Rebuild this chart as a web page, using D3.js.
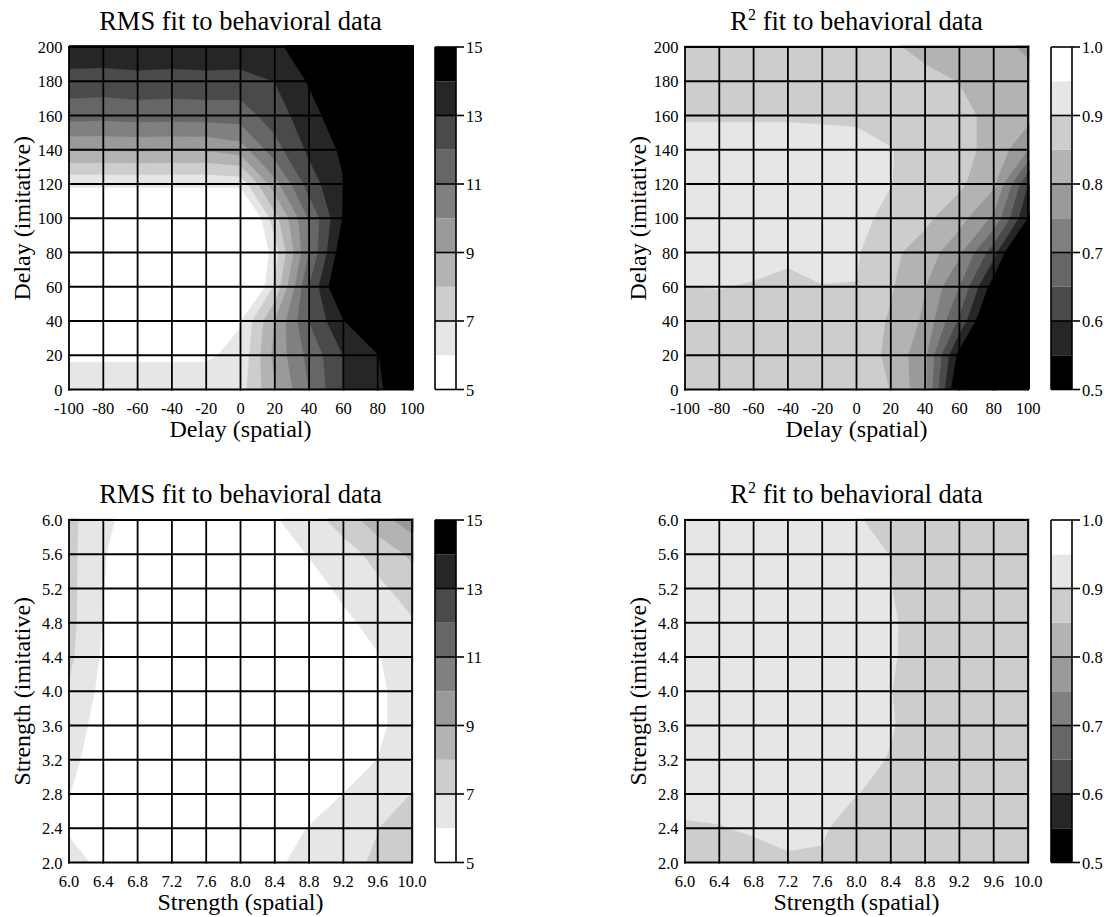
<!DOCTYPE html>
<html><head><meta charset="utf-8">
<script src="https://cdn.jsdelivr.net/npm/d3@7"></script>
<style>
html,body{margin:0;padding:0;background:#fff;}
svg{display:block;}
text{font-family:"Liberation Serif","Times New Roman",Times,serif;fill:#000;}
</style></head><body>
<svg id="chart" width="1115" height="917"></svg>
<script>
// ---------- tick values and labels ----------
const delaySpatialTicks = [-100,-80,-60,-40,-20,0,20,40,60,80,100];
const delaySpatialLabels = ["-100","-80","-60","-40","-20","0","20","40","60","80","100"];
const delayImitTicks = [0,20,40,60,80,100,120,140,160,180,200];
const delayImitLabels = ["0","20","40","60","80","100","120","140","160","180","200"];
const strengthSpatialTicks = [6.0,6.4,6.8,7.2,7.6,8.0,8.4,8.8,9.2,9.6,10.0];
const strengthSpatialLabels = ["6.0","6.4","6.8","7.2","7.6","8.0","8.4","8.8","9.2","9.6","10.0"];
const strengthImitTicks = [2.0,2.4,2.8,3.2,3.6,4.0,4.4,4.8,5.2,5.6,6.0];
const strengthImitLabels = ["2.0","2.4","2.8","3.2","3.6","4.0","4.4","4.8","5.2","5.6","6.0"];

// ---------- contour levels and colorbar labels ----------
const rmsLevels = [5,6,7,8,9,10,11,12,13,14,15];
const rmsBarTicks = [5,7,9,11,13,15];
const rmsBarLabels = ["5","7","9","11","13","15"];
const r2Levels = [0.5,0.55,0.6,0.65,0.7,0.75,0.8,0.85,0.9,0.95,1.0];
const r2BarTicks = [0.5,0.6,0.7,0.8,0.9,1.0];
const r2BarLabels = ["0.5","0.6","0.7","0.8","0.9","1.0"];

// ---------- grid values (rows: top = highest imitative value) ----------
// RMS vs delays; columns = spatial delay -100..100, rows = imitative delay 200..0
const rmsDelay = [
  [13.7, 13.7, 13.75,13.7, 13.75,13.75,13.85,14.4, 15.0, 16.0, 16.0],
  [12.6, 12.55,12.65,12.6, 12.65,12.6, 13.02,14.1, 15.0, 16.0, 16.0],
  [11.4, 11.35,11.45,11.4, 11.45,11.5, 12.5, 13.6, 14.7, 16.0, 16.0],
  [9.1,  9.1,  9.15, 9.1,  9.1,  9.5,  11.6, 13.2, 14.2, 15.5, 16.0],
  [6.2,  6.2,  6.2,  6.2,  6.2,  6.3,  9.6,  12.5, 13.95,15.5, 16.0],
  [4.3,  4.3,  4.3,  4.3,  4.3,  3.5,  7.6,  11.1, 14.1, 16.0, 16.0],
  [4.5,  4.5,  4.5,  4.5,  4.5,  3.5,  6.5,  11.02,14.8, 16.5, 16.5],
  [4.5,  4.5,  4.5,  4.5,  4.5,  3.0,  7.2,  12.02,15.5, 16.5, 16.5],
  [5.0,  5.0,  5.0,  5.0,  5.0,  5.95, 9.02, 12.02,13.95,15.5, 16.0],
  [5.9,  5.9,  5.9,  5.9,  5.9,  6.2,  9.3,  11.3, 13.02,13.95,15.5],
  [6.4,  6.4,  6.4,  6.4,  6.4,  6.6,  8.9,  11.02,13.02,13.8, 15.0]
];
// R^2 vs delays
const r2Delay = [
  [0.87, 0.87, 0.87, 0.87, 0.87, 0.87, 0.855,0.84, 0.83, 0.82, 0.79],
  [0.875,0.875,0.875,0.875,0.875,0.875,0.87, 0.86, 0.849,0.83, 0.82],
  [0.895,0.895,0.895,0.895,0.893,0.89, 0.88, 0.87, 0.86, 0.84, 0.82],
  [0.92, 0.92, 0.92, 0.92, 0.92, 0.92, 0.902,0.88, 0.86, 0.84, 0.75],
  [0.93, 0.93, 0.93, 0.93, 0.93, 0.93, 0.901,0.88, 0.86, 0.81, 0.6],
  [0.93, 0.93, 0.93, 0.93, 0.93, 0.91, 0.89, 0.86, 0.82, 0.74, 0.548],
  [0.925,0.925,0.925,0.925,0.925,0.905,0.86, 0.83, 0.76, 0.62, 0.4],
  [0.899,0.902,0.895,0.87, 0.898,0.899,0.855,0.802,0.7,  0.52, 0.4],
  [0.875,0.875,0.875,0.875,0.875,0.875,0.845,0.79, 0.64, 0.45, 0.35],
  [0.875,0.875,0.875,0.875,0.875,0.875,0.84, 0.76, 0.53, 0.4,  0.3],
  [0.87, 0.87, 0.87, 0.87, 0.87, 0.87, 0.849,0.76, 0.48, 0.38, 0.3]
];
// RMS vs strengths; columns = spatial 6.0..10.0, rows = imitative 6.0..2.0
const rmsStrength = [
  [7.3, 6.2,  5.6, 5.4, 5.3, 5.4, 5.9, 6.6,  7.4,  8.6,  9.5],
  [7.3, 6.05, 5.5, 5.3, 5.2, 5.3, 5.5, 6.05, 6.6,  7.3,  8.2],
  [7.3, 6.02, 5.4, 5.2, 5.1, 5.2, 5.3, 5.6,  6.2,  6.8,  7.4],
  [7.3, 5.95, 5.3, 5.1, 5.0, 5.1, 5.2, 5.4,  5.8,  6.3,  6.9],
  [7.2, 5.85, 5.2, 5.0, 5.0, 5.0, 5.1, 5.3,  5.6,  5.95, 6.5],
  [6.9, 5.7,  5.1, 5.0, 4.9, 5.0, 5.0, 5.2,  5.5,  5.8,  6.5],
  [6.6, 5.5,  5.0, 4.9, 4.9, 4.9, 5.0, 5.2,  5.5,  5.8,  6.5],
  [6.3, 5.4,  5.0, 4.9, 4.9, 5.0, 5.1, 5.3,  5.6,  6.01, 6.6],
  [6.02,5.4,  5.1, 5.0, 5.0, 5.1, 5.2, 5.5,  6.01, 6.5,  7.02],
  [5.8, 5.3,  5.1, 5.0, 5.1, 5.2, 5.5, 6.05, 6.6,  6.98, 7.6],
  [6.6, 5.6,  5.3, 5.2, 5.2, 5.4, 5.8, 6.4,  6.8,  7.1,  7.8]
];
// R^2 vs strengths
const r2Strength = [
  [0.92, 0.92, 0.92, 0.92, 0.92, 0.905,0.88, 0.875,0.875,0.875,0.875],
  [0.925,0.925,0.925,0.925,0.925,0.915,0.899,0.875,0.875,0.875,0.875],
  [0.925,0.925,0.925,0.925,0.925,0.915,0.901,0.875,0.875,0.875,0.875],
  [0.925,0.925,0.925,0.925,0.925,0.915,0.907,0.875,0.875,0.875,0.875],
  [0.925,0.925,0.925,0.925,0.925,0.915,0.906,0.875,0.875,0.875,0.875],
  [0.925,0.925,0.925,0.925,0.925,0.915,0.901,0.875,0.875,0.875,0.875],
  [0.925,0.925,0.925,0.925,0.925,0.915,0.904,0.875,0.875,0.875,0.875],
  [0.925,0.925,0.925,0.925,0.925,0.915,0.897,0.875,0.875,0.875,0.875],
  [0.915,0.915,0.915,0.915,0.915,0.901,0.889,0.875,0.875,0.875,0.875],
  [0.895,0.898,0.905,0.91, 0.905,0.88, 0.875,0.875,0.875,0.875,0.875],
  [0.88, 0.88, 0.885,0.895,0.895,0.875,0.875,0.875,0.875,0.875,0.875]
];

// ---------- styles ----------
const grayRamp = [255,230,205,179,154,128,102,74,38,0];
const rmsColors = grayRamp.map(g => d3.rgb(g,g,g).formatHex());
const r2Colors = grayRamp.slice().reverse().map(g => d3.rgb(g,g,g).formatHex());

const svg = d3.select("#chart");
const W = 343, H = 342.5;

function panel(o) {
  const g = svg.append("g");
  const left = o.left, top = o.top;
  const x = d3.scaleLinear().domain([o.xTicks[0], o.xTicks[o.xTicks.length-1]]).range([left, left+W]);
  const y = d3.scaleLinear().domain([o.yTicks[0], o.yTicks[o.yTicks.length-1]]).range([top+H, top]);
  const nx = o.values[0].length, ny = o.values.length;
  // sample i of the grid sits at contour coordinate i+0.5
  const gx = d3.scaleLinear().domain([0.5, nx-0.5]).range([x(o.xTicks[0]), x(o.xTicks[nx-1])]);
  const gy = d3.scaleLinear().domain([0.5, ny-0.5]).range([y(o.yTicks[ny-1]), y(o.yTicks[0])]);
  const path = d3.geoPath(d3.geoTransform({point(px, py){ this.stream.point(gx(px), gy(py)); }}));
  const thresholds = o.levels.slice(1, o.levels.length-1);
  const cs = d3.contours().size([nx, ny]).thresholds(thresholds)(o.values.flat());

  const clipId = "clip" + o.id;
  svg.append("clipPath").attr("id", clipId).append("rect")
    .attr("x", left).attr("y", top-2).attr("width", W+2).attr("height", H+2);
  const fill = g.append("g").attr("clip-path", `url(#${clipId})`);
  fill.append("rect").attr("x", left).attr("y", top-2).attr("width", W+2).attr("height", H+2)
    .attr("fill", o.colors[0]);
  fill.selectAll("path").data(cs).join("path")
    .attr("d", path)
    .attr("fill", (d,i) => o.colors[i+1])
    .attr("stroke", (d,i) => o.colors[i+1]).attr("stroke-width", 0.3);

  // grid
  const grid = g.append("g").attr("stroke", "#000").attr("stroke-width", 1.8).attr("stroke-linecap", "square");
  grid.selectAll("line.v").data(o.xTicks).join("line").attr("class","v")
    .attr("x1", d => x(d)).attr("x2", d => x(d)).attr("y1", top).attr("y2", top+H);
  grid.selectAll("line.h").data(o.yTicks).join("line").attr("class","h")
    .attr("y1", d => y(d)).attr("y2", d => y(d)).attr("x1", left).attr("x2", left+W);

  // tick labels
  g.append("g").selectAll("text").data(o.xTicks).join("text")
    .attr("x", d => x(d)).attr("y", top+H+24).attr("text-anchor", "middle")
    .attr("font-size", 16.5).text((d,i) => o.xLabels[i]);
  g.append("g").selectAll("text").data(o.yTicks).join("text")
    .attr("x", left-6.5).attr("y", d => y(d)+6).attr("text-anchor", "end")
    .attr("font-size", 16.5).text((d,i) => o.yLabels[i]);

  // axis titles
  g.append("text").attr("x", left+W/2).attr("y", top+H+47.5).attr("text-anchor","middle")
    .attr("font-size", 24).text(o.xTitle);
  g.append("text").attr("transform", `translate(${left-39.5},${top+H/2}) rotate(-90)`)
    .attr("text-anchor","middle").attr("font-size", 24).text(o.yTitle);

  // title
  const t = g.append("text").attr("x", left+W/2).attr("y", top-17).attr("text-anchor","middle")
    .attr("font-size", 26.5);
  if (o.sup) {
    t.append("tspan").text(o.titleA);
    t.append("tspan").attr("font-size", 16).attr("dy", -10).text(o.sup);
    t.append("tspan").attr("dy", 10).text(o.titleB);
  } else {
    t.text(o.titleA);
  }

  // colorbar
  const bx0 = left + W + 23, bx1 = bx0 + 21;
  const c = d3.scaleLinear().domain([o.levels[0], o.levels[o.levels.length-1]]).range([top+H, top]);
  const bands = d3.range(o.levels.length-1);
  g.append("g").selectAll("rect").data(bands).join("rect")
    .attr("x", bx0).attr("width", bx1-bx0)
    .attr("y", k => c(o.levels[k+1])).attr("height", k => c(o.levels[k]) - c(o.levels[k+1]))
    .attr("fill", k => o.colors[k]);
  const bar = g.append("g").attr("stroke", "#000").attr("stroke-width", 1.6);
  bar.append("line").attr("x1", bx0).attr("x2", bx0).attr("y1", c(o.levels[0])).attr("y2", c(o.levels[o.levels.length-1]));
  bar.append("line").attr("x1", bx1).attr("x2", bx1).attr("y1", c(o.levels[0])).attr("y2", c(o.levels[o.levels.length-1]));
  bar.selectAll("line.t").data(o.barTicks).join("line").attr("class","t")
    .attr("x1", bx0).attr("x2", bx1+8).attr("y1", d => c(d)).attr("y2", d => c(d));
  g.append("g").selectAll("text").data(o.barTicks).join("text")
    .attr("x", bx1+10).attr("y", d => c(d)+6).attr("font-size", 16.5)
    .text((d,i) => o.barLabels[i]);
}

panel({id:"tl", left:69, top:47, xTicks:delaySpatialTicks, xLabels:delaySpatialLabels,
  yTicks:delayImitTicks, yLabels:delayImitLabels, values:rmsDelay, levels:rmsLevels, colors:rmsColors,
  titleA:"RMS fit to behavioral data", xTitle:"Delay (spatial)", yTitle:"Delay (imitative)",
  barTicks:rmsBarTicks, barLabels:rmsBarLabels});
panel({id:"tr", left:685, top:47, xTicks:delaySpatialTicks, xLabels:delaySpatialLabels,
  yTicks:delayImitTicks, yLabels:delayImitLabels, values:r2Delay, levels:r2Levels, colors:r2Colors,
  titleA:"R", sup:"2", titleB:" fit to behavioral data", xTitle:"Delay (spatial)", yTitle:"Delay (imitative)",
  barTicks:r2BarTicks, barLabels:r2BarLabels});
panel({id:"bl", left:69, top:520, xTicks:strengthSpatialTicks, xLabels:strengthSpatialLabels,
  yTicks:strengthImitTicks, yLabels:strengthImitLabels, values:rmsStrength, levels:rmsLevels, colors:rmsColors,
  titleA:"RMS fit to behavioral data", xTitle:"Strength (spatial)", yTitle:"Strength (imitative)",
  barTicks:rmsBarTicks, barLabels:rmsBarLabels});
panel({id:"br", left:685, top:520, xTicks:strengthSpatialTicks, xLabels:strengthSpatialLabels,
  yTicks:strengthImitTicks, yLabels:strengthImitLabels, values:r2Strength, levels:r2Levels, colors:r2Colors,
  titleA:"R", sup:"2", titleB:" fit to behavioral data", xTitle:"Strength (spatial)", yTitle:"Strength (imitative)",
  barTicks:r2BarTicks, barLabels:r2BarLabels});
</script>
</body></html>
